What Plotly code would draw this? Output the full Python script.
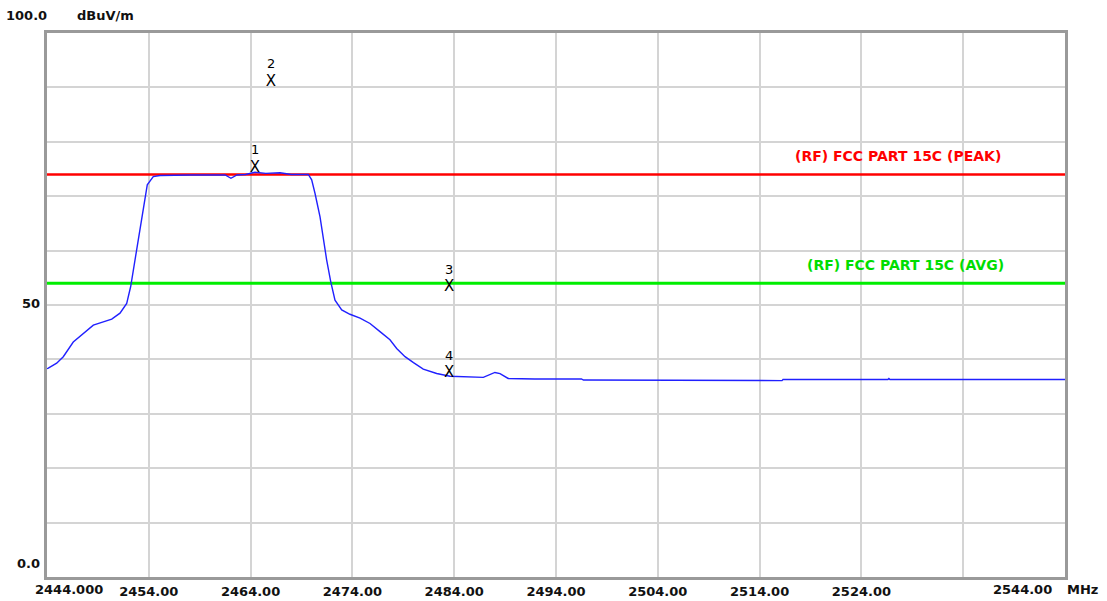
import plotly.graph_objects as go

# ---- data ----
freq = [2444.0, 2444.13, 2444.95, 2445.6, 2446.58, 2447.57, 2448.55, 2449.53, 2450.36, 2451.17,
        2451.83, 2452.22, 2452.64, 2453.14, 2453.63, 2453.85, 2454.44, 2455.1, 2458.0, 2461.5,
        2462.07, 2462.66, 2463.5, 2464.43, 2465.5, 2466.9, 2468.0, 2469.35, 2469.67, 2470.0,
        2470.33, 2470.82, 2471.14, 2471.47, 2471.87, 2472.29, 2472.95, 2473.76, 2474.75, 2475.73,
        2476.71, 2477.69, 2478.35, 2479.17, 2480.0, 2480.96, 2482.28, 2483.59, 2486.86, 2488.0,
        2488.5, 2489.3, 2491.9, 2496.5, 2496.7, 2516.2, 2516.3, 2526.6, 2526.7, 2526.8, 2544.0]
level = [38.3, 38.4, 39.3, 40.5, 43.2, 44.8, 46.3, 46.9, 47.4, 48.5,
         50.3, 53.4, 58.3, 64.4, 69.9, 72.1, 73.6, 73.8, 73.9, 73.9,
         73.3, 73.9, 74.0, 74.4, 74.2, 74.3, 74.0, 73.9, 74.0, 73.0,
         70.5, 66.2, 62.0, 58.3, 54.3, 50.9, 49.1, 48.3, 47.6, 46.6,
         45.1, 43.6, 42.0, 40.5, 39.4, 38.2, 37.4, 36.9, 36.7, 37.6,
         37.4, 36.5, 36.4, 36.4, 36.2, 36.1, 36.3, 36.3, 36.5, 36.3, 36.3]

peak_limit = 74.0
avg_limit = 54.0
peak_label = "(RF) FCC PART 15C (PEAK)"
avg_label = "(RF) FCC PART 15C (AVG)"

marker_ids = ["1", "2", "3", "4"]
marker_freq = [2464.43, 2466.0, 2483.5, 2483.5]
marker_level = [75.2, 91.0, 53.3, 37.5]

x_min, x_max = 2444.0, 2544.0
y_min, y_max = 0.0, 100.0
x_grid = [2454, 2464, 2474, 2484, 2494, 2504, 2514, 2524, 2534]
x_labels = ["2454.00", "2464.00", "2474.00", "2484.00", "2494.00", "2504.00", "2514.00", "2524.00", ""]
y_grid = [10, 20, 30, 40, 50, 60, 70, 80, 90]

FONT = "DejaVu Sans"

fig = go.Figure()

fig.add_trace(go.Scatter(x=[x_min, x_max], y=[peak_limit, peak_limit], mode="lines",
                         line=dict(color="#ff0000", width=2.5), hoverinfo="skip"))
fig.add_trace(go.Scatter(x=[x_min, x_max], y=[avg_limit, avg_limit], mode="lines",
                         line=dict(color="#00ee00", width=3), hoverinfo="skip"))
fig.add_trace(go.Scatter(x=freq, y=level, mode="lines",
                         line=dict(color="#2020ff", width=1.4)))
fig.add_trace(go.Scatter(x=marker_freq, y=marker_level, mode="text", text=["X"] * 4,
                         textfont=dict(family=FONT, size=15, color="black"),
                         textposition="middle center"))

for mid, mx, my in zip(marker_ids, marker_freq, marker_level):
    fig.add_annotation(x=mx, y=my, text=mid, showarrow=False, yshift=18,
                       font=dict(family=FONT, size=13, color="black"))

fig.add_annotation(x=2527.6, y=peak_limit, text=peak_label, showarrow=False, yshift=18,
                   font=dict(family=FONT, size=14, color="#ff0000", weight="bold"))
fig.add_annotation(x=2528.3, y=avg_limit, text=avg_label, showarrow=False, yshift=18,
                   font=dict(family=FONT, size=14, color="#00dd00", weight="bold"))

lab_font = dict(family=FONT, size=13, color="#111111", weight="bold")
# axis end labels
fig.add_annotation(xref="paper", yref="paper", x=-0.042, y=1.0, yshift=27, xanchor="left",
                   text="100.0", showarrow=False, font=lab_font)
fig.add_annotation(xref="paper", yref="paper", x=0.0275, y=1.0, yshift=27, xanchor="left",
                   text="dBuV/m", showarrow=False, font=lab_font)
fig.add_annotation(x=x_min, y=50, xshift=-5, yshift=2, xanchor="right", text="50", showarrow=False, font=lab_font)
fig.add_annotation(x=x_min, y=0, xshift=-5, yshift=14, xanchor="right", text="0.0", showarrow=False, font=lab_font)
fig.add_annotation(x=x_min, y=0, yshift=-12, xshift=-14, xanchor="left", text="2444.000",
                   showarrow=False, font=lab_font)
fig.add_annotation(x=x_max, y=0, yshift=-12, xshift=-43, text="2544.00",
                   showarrow=False, font=lab_font)
fig.add_annotation(x=x_max, y=0, yshift=-12, xshift=17, xanchor="center", text="MHz",
                   showarrow=False, font=lab_font)

fig.update_layout(
    width=1107, height=601,
    margin=dict(l=47, r=42, t=33, b=24),
    paper_bgcolor="white", plot_bgcolor="white",
    showlegend=False,
    xaxis=dict(range=[x_min, x_max], tickvals=x_grid, ticktext=x_labels,
               showgrid=True, gridcolor="#d4d4d4", gridwidth=1.5,
               showline=True, linecolor="#9a9a9a", linewidth=3, mirror=True,
               ticks="", tickfont=lab_font, zeroline=False, fixedrange=True, automargin=False),
    yaxis=dict(range=[y_min, y_max], tickvals=y_grid, ticktext=[""] * len(y_grid),
               showgrid=True, gridcolor="#d4d4d4", gridwidth=1.5,
               showline=True, linecolor="#9a9a9a", linewidth=3, mirror=True,
               ticks="", zeroline=False, fixedrange=True, automargin=False),
)

fig.write_html("out.html", config={"displayModeBar": False},
               post_script="document.body.style.margin='0';")
